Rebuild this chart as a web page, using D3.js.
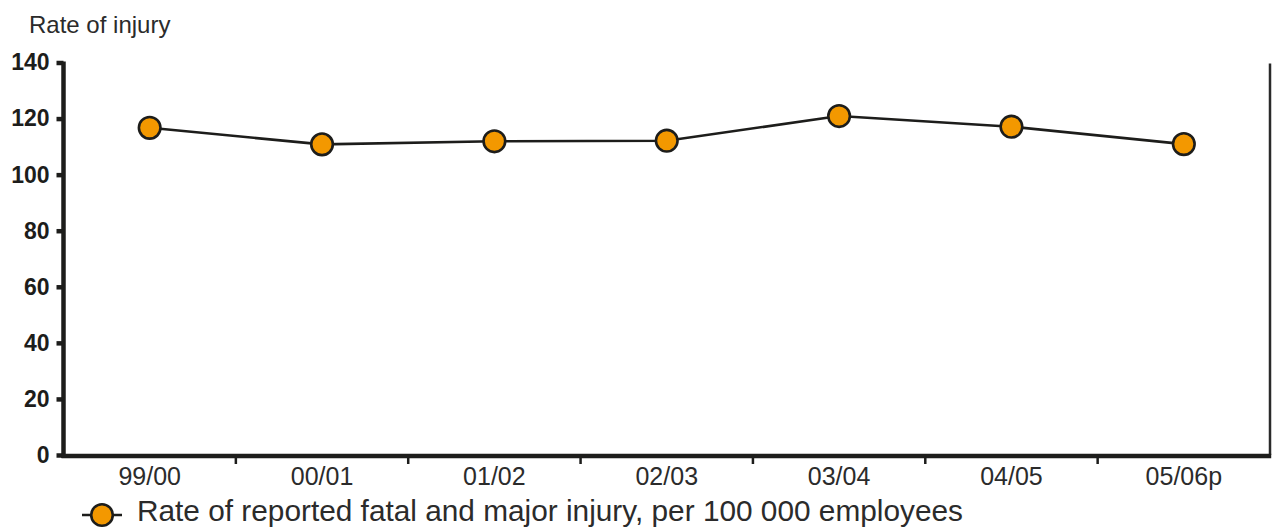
<!DOCTYPE html>
<html>
<head>
<meta charset="utf-8">
<script src="https://cdn.jsdelivr.net/npm/d3@7"></script>
<style>
  html, body { margin: 0; padding: 0; background: #fff; }
  svg { display: block; }
  text { font-family: "Liberation Sans", Arial, Helvetica, sans-serif; }
</style>
</head>
<body>
<svg id="chart" width="1273" height="528"></svg>
<script>
// Injury rate per 100 000 employees, by financial year
const years = ["99/00", "00/01", "01/02", "02/03", "03/04", "04/05", "05/06p"];
const rates = [116.7, 110.8, 111.9, 112.1, 120.9, 117.1, 110.9];
const yTicks = [0, 20, 40, 60, 80, 100, 120, 140];
const yTitle = "Rate of injury";
const seriesName = "Rate of reported fatal and major injury, per 100 000 employees";

const ink = "#1d1d1b";
const orange = "#f39800";

const svg = d3.select("#chart");
const plotL = 63.5, plotR = 1270, plotT = 62.5, plotB = 455;

const x = d3.scaleBand().domain(years).range([plotL, plotR]);
const y = d3.scaleLinear().domain([0, 140]).range([plotB, plotT]);

// y-axis title
svg.append("text")
  .attr("x", 29).attr("y", 33)
  .attr("font-size", 24)
  .attr("fill", "#2b2b2b")
  .text(yTitle);

// right frame line
svg.append("line")
  .attr("x1", plotR).attr("x2", plotR)
  .attr("y1", plotT + 1).attr("y2", plotB)
  .attr("stroke", "#2a2a2a").attr("stroke-width", 2.5);

// left axis with bold labels
const yAxis = svg.append("g")
  .attr("transform", `translate(${plotL},0)`)
  .call(d3.axisLeft(y).tickValues(yTicks).tickSize(7).tickPadding(7).tickSizeOuter(0));
yAxis.select(".domain").remove();
yAxis.selectAll(".tick line").attr("stroke", ink).attr("stroke-width", 4.5);
yAxis.selectAll(".tick text")
  .attr("fill", "#1d1d1b")
  .attr("font-size", 23)
  .attr("font-weight", "bold")
  .attr("font-family", "Liberation Sans, Arial, sans-serif");
yAxis.append("line")
  .attr("x1", 0).attr("x2", 0)
  .attr("y1", plotT - 1).attr("y2", plotB + 3)
  .attr("stroke", ink).attr("stroke-width", 4.5);

// bottom axis: separators between categories, labels centred
const xAxis = svg.append("g")
  .attr("transform", `translate(0,${plotB + 1})`);
xAxis.append("line")
  .attr("x1", plotL - 2).attr("x2", plotR + 1.2)
  .attr("y1", 0).attr("y2", 0)
  .attr("stroke", ink).attr("stroke-width", 4.5);
xAxis.selectAll("line.sep")
  .data(years.slice(1))
  .join("line")
  .attr("class", "sep")
  .attr("x1", d => x(d)).attr("x2", d => x(d))
  .attr("y1", 0).attr("y2", 8)
  .attr("stroke", ink).attr("stroke-width", 2.5);
xAxis.selectAll("text.cat")
  .data(years)
  .join("text")
  .attr("class", "cat")
  .attr("x", d => x(d) + x.bandwidth() / 2)
  .attr("y", 29)
  .attr("text-anchor", "middle")
  .attr("font-size", 25)
  .attr("fill", "#2b2b2b")
  .text(d => d);

// series line and markers
const pts = years.map((d, i) => [x(d) + x.bandwidth() / 2, y(rates[i])]);
svg.append("path")
  .attr("d", d3.line()(pts))
  .attr("fill", "none")
  .attr("stroke", ink)
  .attr("stroke-width", 2.6);
svg.selectAll("circle.pt")
  .data(pts)
  .join("circle")
  .attr("class", "pt")
  .attr("cx", d => d[0]).attr("cy", d => d[1])
  .attr("r", 10.8)
  .attr("fill", orange)
  .attr("stroke", ink)
  .attr("stroke-width", 2.6);

// legend
const lg = svg.append("g").attr("transform", "translate(0,515)");
lg.append("line")
  .attr("x1", 82).attr("x2", 122).attr("y1", 0).attr("y2", 0)
  .attr("stroke", ink).attr("stroke-width", 2.6);
lg.append("circle")
  .attr("cx", 102).attr("cy", 0).attr("r", 10.8)
  .attr("fill", orange).attr("stroke", ink).attr("stroke-width", 2.6);
lg.append("text")
  .attr("x", 137).attr("y", 6)
  .attr("font-size", 29.8)
  .attr("fill", "#2b2b2b")
  .text(seriesName);
</script>
</body>
</html>
